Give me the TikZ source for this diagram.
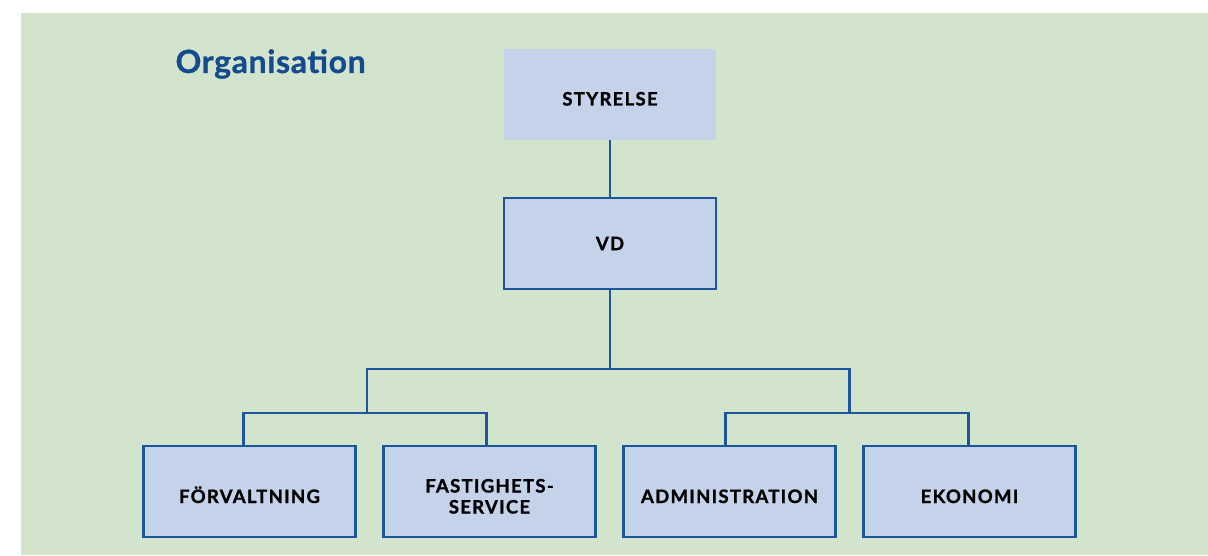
\documentclass[tikz,border=0pt]{standalone}
\usepackage{fontspec}
\setmainfont{Lato}
\newfontfamily\boxfont[LetterSpace=7,FakeBold=1.2]{Lato}
\newfontfamily\headfont[LetterSpace=2,FakeBold=0.8]{Lato}
\usetikzlibrary{positioning}

\definecolor{bggreen}{RGB}{210,229,204}
\definecolor{boxfill}{RGB}{197,211,234}
\definecolor{lineblue}{RGB}{30,86,158}
\definecolor{titleblue}{RGB}{22,74,143}

\begin{document}
\begin{tikzpicture}[x=1pt,y=1pt,
    unit/.style={fill=boxfill, minimum width=212pt, minimum height=91pt, inner sep=0pt,
        font=\boxfont\fontsize{18.5}{21}\selectfont\bfseries, align=center},
    framed/.style={unit, draw=lineblue, line width=2.2pt},
    lowtext/.style={text height=#1, text depth=0pt},
    link/.style={draw=lineblue, line width=2.2pt}]
\useasboundingbox (0,0) rectangle (1208,555);
\fill[bggreen] (21,0) rectangle (1208,542);

\node[anchor=base west, text=titleblue, font=\headfont\fontsize{32}{36}\selectfont\bfseries] (title) at (172,482) {Organisation};

% top of the tree
\node[unit, lowtext=22pt] (styrelse) at (610,460.5) {STYRELSE};
\node[framed] (vd) at (610,311.5) {VD};

% departments
\node[framed, lowtext=23pt] (forv) at (249.5,63.5) {FÖRVALTNING};
\node[framed, lowtext=44pt] (fast) at (489.5,63.5) {FASTIGHETS-\\SERVICE};
\node[framed, lowtext=23pt] (admin) at (729.5,63.5) {ADMINISTRATION};
\node[framed, lowtext=23pt] (ekon) at (969.5,63.5) {EKONOMI};

\coordinate (hub) at (610,186);
\coordinate (hubL) at (367,142);
\coordinate (hubR) at (849.5,142);

\draw[link] (styrelse.south) -- (vd.north);
\draw[link] (vd.south) -- (hub);
\draw[link] (hubL) -- (hubL |- hub) -- (hubR |- hub) -- (hubR);
\draw[link] ([xshift=-6pt]forv.north) |- (hubL) -| ([xshift=-3pt]fast.north);
\draw[link] ([xshift=-4pt]admin.north) |- (hubR) -| ([xshift=-1pt]ekon.north);

\end{tikzpicture}
\end{document}
